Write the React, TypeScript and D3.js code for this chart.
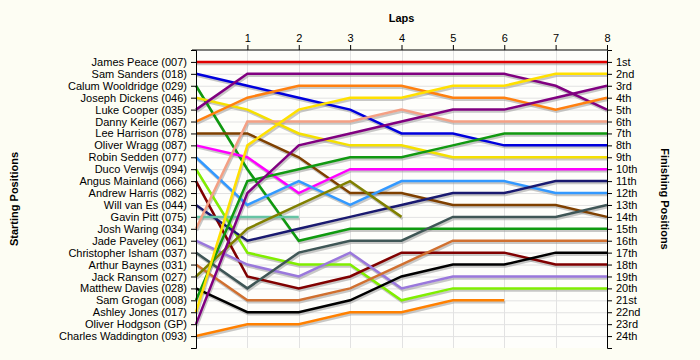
import React, { useRef, useEffect } from "react";
import * as d3 from "d3";

// starting grid, top to bottom
const drivers = [
  "James Peace (007)",
  "Sam Sanders (018)",
  "Calum Wooldridge (029)",
  "Joseph Dickens (046)",
  "Luke Cooper (035)",
  "Danny Keirle (067)",
  "Lee Harrison (078)",
  "Oliver Wragg (087)",
  "Robin Sedden (077)",
  "Duco Verwijs (094)",
  "Angus Mainland (066)",
  "Andrew Harris (082)",
  "Will van Es (044)",
  "Gavin Pitt (075)",
  "Josh Waring (034)",
  "Jade Paveley (061)",
  "Christopher Isham (037)",
  "Arthur Baynes (031)",
  "Jack Ransom (027)",
  "Matthew Davies (028)",
  "Sam Grogan (008)",
  "Ashley Jones (017)",
  "Oliver Hodgson (GP)",
  "Charles Waddington (093)",
];

const lineColors = [
  "#e00000", "#0000dd", "#0f9a0f", "#f5e000", "#800080", "#ff8010",
  "#7f4000", "#ff00ff", "#3399ff", "#80ee00", "#800000", "#999999",
  "#1a1a70", "#66c4a4", "#f4a084", "#9a78dc", "#3f5656", "#d07030",
  "#808000", "#000000", "#119911", "#ffe000", "#800080", "#ff8000",
];

// position of each driver at lap 0..8 (shorter list = retired)
const positions: number[][] = [
  [1, 1, 1, 1, 1, 1, 1, 1, 1],
  [2, 3, 4, 5, 7, 7, 8, 8, 8],
  [3, 10, 16, 15, 15, 15, 15, 15, 15],
  [4, 5, 7, 8, 8, 9, 9, 9, 9],
  [5, 2, 2, 2, 2, 2, 2, 3, 5],
  [6, 4, 3, 3, 3, 4, 4, 5, 4],
  [7, 7, 9, 12, 12, 13, 13, 13, 14],
  [8, 9, 12, 10, 10, 10, 10, 10, 10],
  [9, 13, 11, 13, 11, 11, 11, 12, 12],
  [10, 17, 18, 18, 21, 20, 20, 20, 20],
  [11, 19, 20, 19, 17, 17, 17, 18, 18],
  [],
  [13, 16, 15, 14, 13, 12, 12, 11, 11],
  [14, 14, 14],
  [15, 6, 6, 6, 5, 6, 6, 6, 6],
  [16, 18, 19, 17, 20, 19, 19, 19, 19],
  [17, 20, 17, 16, 16, 14, 14, 14, 13],
  [18, 21, 21, 20, 18, 16, 16, 16, 16],
  [19, 15, 13, 11, 14],
  [20, 22, 22, 21, 19, 18, 18, 17, 17],
  [21, 11, 10, 9, 9, 8, 7, 7, 7],
  [22, 8, 5, 4, 4, 3, 3, 2, 2],
  [23, 12, 8, 7, 6, 5, 5, 4, 3],
  [24, 23, 23, 22, 22, 21, 21],
];

const laps = [1, 2, 3, 4, 5, 6, 7, 8];

const finishLabels = [
  "1st", "2nd", "3rd", "4th", "5th", "6th", "7th", "8th", "9th", "10th",
  "11th", "12th", "13th", "14th", "15th", "16th", "17th", "18th", "19th",
  "20th", "21st", "22nd", "23rd", "24th",
];

export default function App() {
  const ref = useRef<SVGSVGElement>(null);

  useEffect(() => {
    const svg = d3.select(ref.current);
    svg.selectAll("*").remove();
    const font = "'Liberation Sans', Arial, sans-serif";

    const x = d3.scaleLinear().domain([0, 8]).range([196, 607]);
    const y = d3.scaleLinear().domain([0, 25]).range([50, 348]);
    const rows = d3.range(1, 25);

    svg.append("rect").attr("width", 700).attr("height", 360).attr("fill", "#fdfdf3");
    svg
      .append("rect")
      .attr("x", x(0))
      .attr("y", y(0))
      .attr("width", x(8) - x(0))
      .attr("height", y(25) - y(0))
      .attr("fill", "#fefefb");

    // grid
    const grid = svg.append("g").attr("stroke", "#e2e2e2").attr("stroke-width", 1);
    grid
      .selectAll("line.h")
      .data(rows)
      .join("line")
      .attr("class", "h")
      .attr("x1", x(0))
      .attr("x2", x(8))
      .attr("y1", (d) => y(d) + 0.5)
      .attr("y2", (d) => y(d) + 0.5);
    grid
      .selectAll("line.v")
      .data(laps.slice(0, 7))
      .join("line")
      .attr("class", "v")
      .attr("x1", (d) => Math.round(x(d)) + 0.5)
      .attr("x2", (d) => Math.round(x(d)) + 0.5)
      .attr("y1", y(0))
      .attr("y2", y(25));

    const line = d3
      .line<number>()
      .x((d, i) => x(i))
      .y((d) => y(d));

    const series = positions
      .map((p, i) => ({ p, color: lineColors[i] }))
      .filter((s) => s.p.length > 1);

    // drop shadows
    svg
      .append("g")
      .attr("transform", "translate(1,2)")
      .selectAll("path")
      .data(series)
      .join("path")
      .attr("d", (s) => line(s.p))
      .attr("fill", "none")
      .attr("stroke", "#9a9a9a")
      .attr("stroke-opacity", 0.55)
      .attr("stroke-width", 2.5);

    svg
      .append("g")
      .selectAll("path")
      .data(series)
      .join("path")
      .attr("d", (s) => line(s.p))
      .attr("fill", "none")
      .attr("stroke", (s) => s.color)
      .attr("stroke-width", 2.5)
      .attr("stroke-linejoin", "miter");

    // axes
    const left = svg
      .append("g")
      .attr("transform", `translate(${x(0)},0)`)
      .call(
        d3
          .axisLeft(y)
          .tickValues(rows)
          .tickSizeInner(5)
          .tickSizeOuter(5)
          .tickPadding(4)
          .tickFormat((d) => drivers[+d - 1])
      );
    const right = svg
      .append("g")
      .attr("transform", `translate(${x(8)},0)`)
      .call(
        d3
          .axisRight(y)
          .tickValues(rows)
          .tickSizeInner(5)
          .tickSizeOuter(5)
          .tickPadding(4)
          .tickFormat((d) => finishLabels[+d - 1])
      );
    const top = svg
      .append("g")
      .attr("transform", `translate(0,${y(0)})`)
      .call(
        d3
          .axisTop(x)
          .tickValues(laps)
          .tickSizeInner(5)
          .tickSizeOuter(0)
          .tickPadding(3)
          .tickFormat(d3.format("d"))
      );
    [left, right, top].forEach((g) => {
      g.attr("font-family", font).attr("font-size", 11);
      g.selectAll("text").attr("fill", "#000");
      g.selectAll("line, path").attr("stroke", "#000");
    });
    top.select(".domain").attr("d", `M${x(0) - 4},0H${x(8)}`);

    // titles
    svg
      .append("text")
      .attr("x", (x(0) + x(8)) / 2)
      .attr("y", 22)
      .attr("text-anchor", "middle")
      .attr("font-family", font)
      .attr("font-size", 11)
      .attr("font-weight", "bold")
      .text("Laps");
    svg
      .append("text")
      .attr("transform", `translate(18,199) rotate(-90)`)
      .attr("text-anchor", "middle")
      .attr("font-family", font)
      .attr("font-size", 11)
      .attr("font-weight", "bold")
      .text("Starting Positions");
    svg
      .append("text")
      .attr("transform", `translate(661,199) rotate(90)`)
      .attr("text-anchor", "middle")
      .attr("font-family", font)
      .attr("font-size", 11)
      .attr("font-weight", "bold")
      .text("Finishing Positions");
  }, []);

  return (
    <svg
      ref={ref}
      width={700}
      height={360}
      style={{ position: "absolute", left: 0, top: 0 }}
    />
  );
}
